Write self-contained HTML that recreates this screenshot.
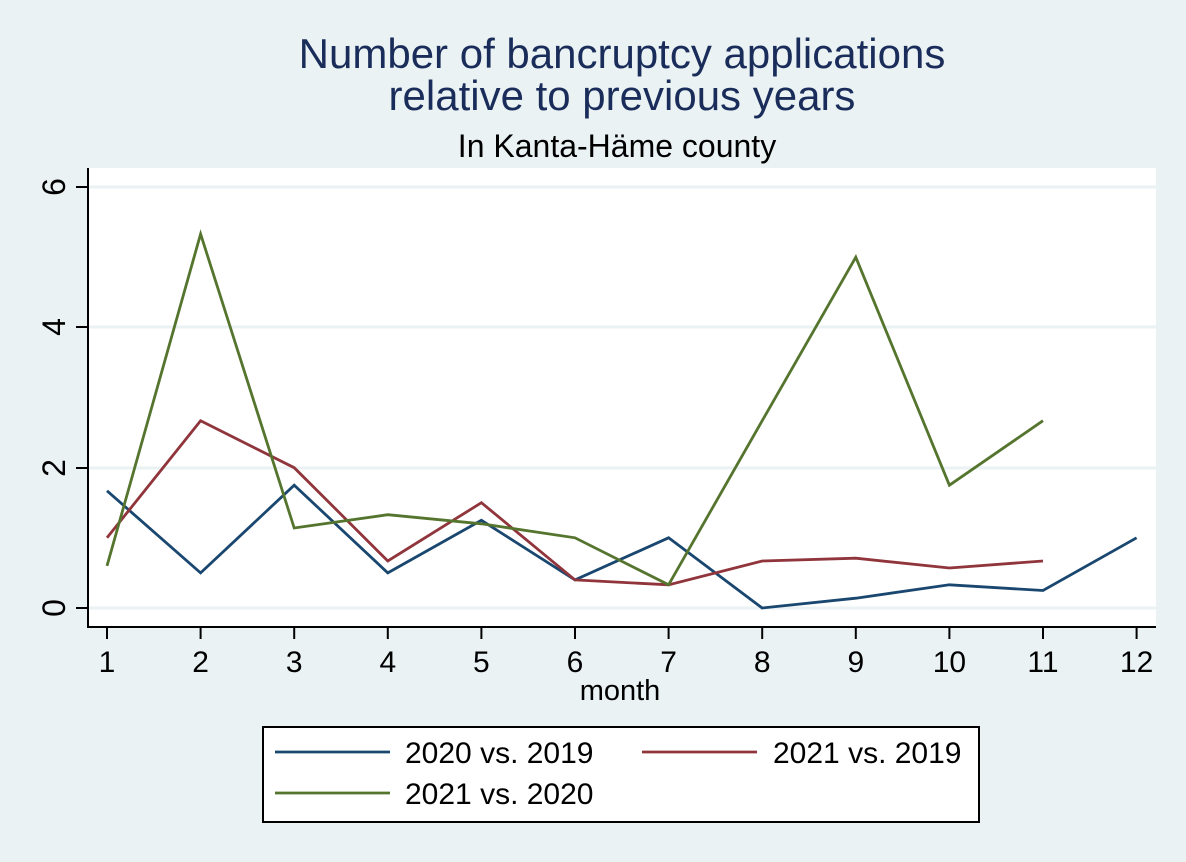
<!DOCTYPE html>
<html><head><meta charset="utf-8"><style>body{margin:0;background:#eaf2f3}svg{display:block}</style></head>
<body>
<svg width="1186" height="862" xmlns="http://www.w3.org/2000/svg" font-family="Liberation Sans, Arial, sans-serif">
<rect width="1186" height="862" fill="#eaf2f3"/>
<text x="622" y="68" font-size="42" fill="#1a2d5a" text-anchor="middle">Number of bancruptcy applications</text>
<text x="622" y="110" font-size="42" fill="#1a2d5a" text-anchor="middle">relative to previous years</text>
<text x="617" y="157" font-size="32" fill="#000" text-anchor="middle">In Kanta-Häme county</text>
<rect x="88" y="168" width="1068" height="459" fill="#fff"/>
<g stroke="#eaf2f3" stroke-width="3">
<line x1="88" x2="1156" y1="608" y2="608"/><line x1="88" x2="1156" y1="468" y2="468"/><line x1="88" x2="1156" y1="327" y2="327"/><line x1="88" x2="1156" y1="187" y2="187"/>
</g>
<g stroke="#000" stroke-width="2" fill="none">
<polyline points="88,168 88,627 1156,627"/>
<line x1="76" x2="88" y1="608" y2="608"/><line x1="76" x2="88" y1="468" y2="468"/><line x1="76" x2="88" y1="327" y2="327"/><line x1="76" x2="88" y1="187" y2="187"/>
<g>
<line x1="107" x2="107" y1="627" y2="639"/><line x1="200.6" x2="200.6" y1="627" y2="639"/><line x1="294.2" x2="294.2" y1="627" y2="639"/><line x1="387.8" x2="387.8" y1="627" y2="639"/><line x1="481.4" x2="481.4" y1="627" y2="639"/><line x1="575" x2="575" y1="627" y2="639"/><line x1="668.6" x2="668.6" y1="627" y2="639"/><line x1="762.2" x2="762.2" y1="627" y2="639"/><line x1="855.8" x2="855.8" y1="627" y2="639"/><line x1="949.4" x2="949.4" y1="627" y2="639"/><line x1="1043" x2="1043" y1="627" y2="639"/><line x1="1136.6" x2="1136.6" y1="627" y2="639"/>
</g></g>
<g font-size="32" text-anchor="middle">
<text transform="translate(65,608) rotate(-90)">0</text>
<text transform="translate(65,468) rotate(-90)">2</text>
<text transform="translate(65,327) rotate(-90)">4</text>
<text transform="translate(65,187) rotate(-90)">6</text>
</g>
<g font-size="30" text-anchor="middle">
<text x="107" y="672">1</text><text x="200.6" y="672">2</text><text x="294.2" y="672">3</text><text x="387.8" y="672">4</text><text x="481.4" y="672">5</text><text x="575" y="672">6</text><text x="668.6" y="672">7</text><text x="762.2" y="672">8</text><text x="855.8" y="672">9</text><text x="949.4" y="672">10</text><text x="1043" y="672">11</text><text x="1136.6" y="672">12</text>
<text x="620" y="700" font-size="29">month</text>
</g>
<g fill="none" stroke-width="2.8">
<polyline stroke="#1a476f" points="107,490.8 200.6,572.9 294.2,485.2 387.8,572.9 481.4,520.3 575,579.9 668.6,537.8 762.2,608 855.8,598.2 949.4,584.8 1043,590.5 1136.6,537.8"/>
<polyline stroke="#90353b" points="107,537.8 200.6,420.7 294.2,467.7 387.8,561 481.4,502.7 575,579.9 668.6,584.8 762.2,561 855.8,558.2 949.4,568 1043,561"/>
<polyline stroke="#55752f" points="107,565.9 200.6,234 294.2,528 387.8,514.7 481.4,523.8 575,537.8 668.6,584.8 762.2,420.7 855.8,257.2 949.4,485.2 1043,420.7"/>
</g>
<rect x="263" y="727" width="716" height="95" fill="#fff" stroke="#000" stroke-width="2"/>
<line x1="275" x2="390" y1="752" y2="752" stroke="#1a476f" stroke-width="2.8"/>
<line x1="642" x2="757" y1="752" y2="752" stroke="#90353b" stroke-width="2.8"/>
<line x1="275" x2="390" y1="793" y2="793" stroke="#55752f" stroke-width="2.8"/>
<g font-size="30">
<text x="405" y="763">2020 vs. 2019</text>
<text x="773" y="763">2021 vs. 2019</text>
<text x="405" y="804">2021 vs. 2020</text>
</g>
</svg>
</body></html>
